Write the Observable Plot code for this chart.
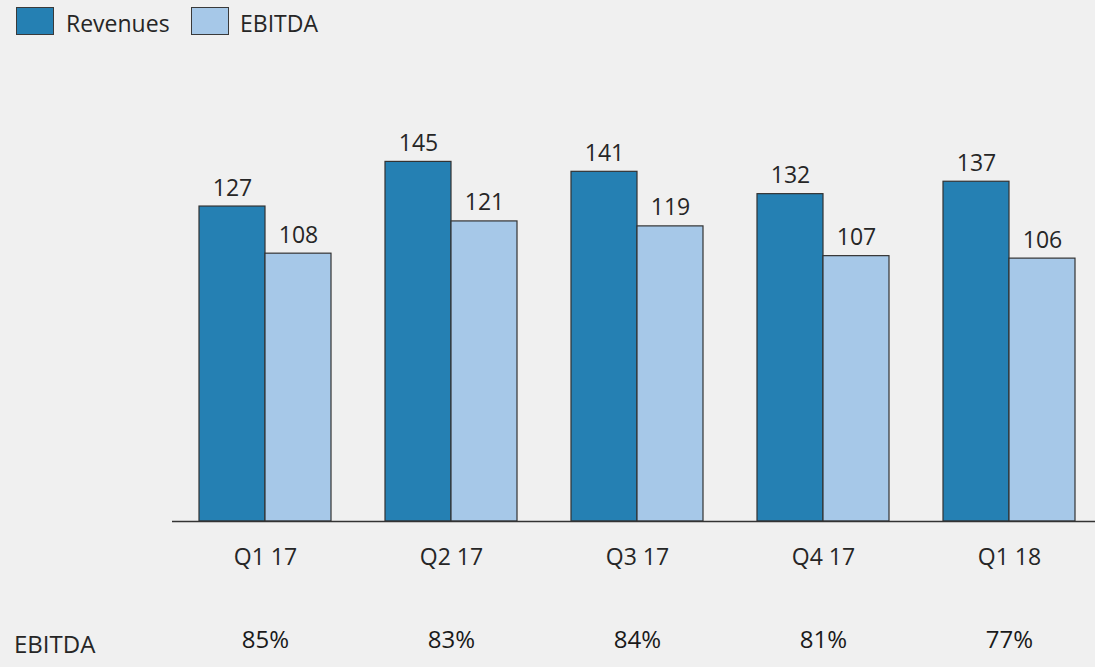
<!DOCTYPE html>
<html>
<head>
<meta charset="utf-8">
<script src="https://cdn.jsdelivr.net/npm/d3@7"></script>
<script src="https://cdn.jsdelivr.net/npm/@observablehq/plot@0.6"></script>
<style>
  html, body { margin: 0; padding: 0; background: #f0f0f0; }
  body { width: 1095px; height: 667px; position: relative; overflow: hidden; font-family: "Open Sans", sans-serif; color: #262626; }
  #legend { position: relative; height: 45px; }
  .sw { position: absolute; top: 7px; width: 38px; height: 28px; box-sizing: border-box; border: 1px solid #3a3a3a; }
  .lt { position: absolute; top: 12px; font-size: 23px; line-height: 23px; }
  #rowlabel { position: absolute; left: 14px; top: 632px; font-size: 24px; line-height: 24px; }
  svg { display: block; }
</style>
</head>
<body>
<div id="legend"></div>
<div id="chart"></div>
<div id="rowlabel">EBITDA</div>
<script>
const quarters = ["Q1 17", "Q2 17", "Q3 17", "Q4 17", "Q1 18"];
const revenues = [127, 145, 141, 132, 137];
const ebitda = [108, 121, 119, 107, 106];
const margins = ["85%", "83%", "84%", "81%", "77%"];
const seriesNames = ["Revenues", "EBITDA"];
const seriesColors = ["#2580b3", "#a6c8e8"];

// legend
const legend = document.getElementById("legend");
const legendPos = [{sw: 16, tx: 66}, {sw: 191, tx: 240}];
seriesNames.forEach((name, i) => {
  const s = document.createElement("div");
  s.className = "sw";
  s.style.left = legendPos[i].sw + "px";
  s.style.background = seriesColors[i];
  legend.appendChild(s);
  const t = document.createElement("div");
  t.className = "lt";
  t.style.left = legendPos[i].tx + "px";
  t.textContent = name;
  legend.appendChild(t);
});

const rows = [];
quarters.forEach((q, i) => {
  rows.push({quarter: q, series: "Revenues", value: revenues[i]});
  rows.push({quarter: q, series: "EBITDA", value: ebitda[i]});
});
const marginRows = quarters.map((q, i) => ({quarter: q, margin: margins[i]}));

const chart = Plot.plot({
  width: 1095,
  height: 622,
  marginLeft: 171,
  marginRight: -7,
  marginTop: 104,
  marginBottom: 146,
  style: {background: "transparent", fontFamily: "Open Sans, sans-serif", color: "#262626"},
  fx: {domain: quarters, padding: 0, label: null, axis: "bottom", tickSize: 0, tickPadding: 27},
  x: {domain: seriesNames, paddingInner: 0, paddingOuter: 0.39, axis: null},
  y: {domain: [0, 150], axis: null},
  color: {domain: seriesNames, range: seriesColors},
  marks: [
    Plot.barY(rows, {fx: "quarter", x: "series", y: "value", fill: "series", stroke: "#333", strokeWidth: 1.2, inset: 0}),
    Plot.text(rows, {fx: "quarter", x: "series", y: "value", text: d => String(d.value), lineAnchor: "bottom", dy: -11, fontSize: 23, fill: "#262626"}),
    Plot.ruleY([0], {stroke: "#333", strokeWidth: 1.3}),
    Plot.text(marginRows, {fx: "quarter", text: "margin", frameAnchor: "bottom", lineAnchor: "bottom", dy: 126, fontSize: 24, fill: "#1a1a1a"})
  ]
});
chart.querySelectorAll('[aria-label="fx-axis tick label"] text, g[aria-label="fx-axis tick label"]').forEach(el => {
  el.setAttribute("font-size", 23);
});
document.getElementById("chart").appendChild(chart);
</script>
</body>
</html>
